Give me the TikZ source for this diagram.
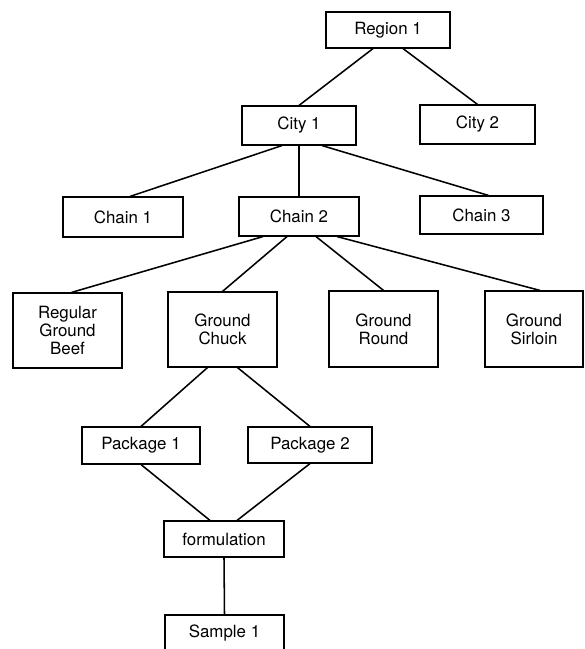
\documentclass[tikz,border=0pt]{standalone}
\usepackage{fontspec}
\setmainfont{TeX Gyre Heros}
\usepackage{tikz}
\usetikzlibrary{calc}
\tikzset{
  bx/.style={draw,line width=0.8pt,align=center,inner sep=0pt,font=\fontsize{12}{13}\selectfont},
  ln/.style={line width=1.1pt}
}
\begin{document}
\begin{tikzpicture}[x=0.025cm,y=-0.025cm]
\useasboundingbox (0,0) rectangle (584,649);
% boxes
\node[bx,minimum width=3.1cm,minimum height=0.9cm] (reg) at (388,30) {Region 1};
\node[bx,minimum width=2.85cm,minimum height=0.975cm] (cityA) at (299,125.5) {City 1};
\node[bx,minimum width=2.875cm,minimum height=0.975cm] (cityB) at (477.5,124.5) {City 2};
\node[bx,minimum width=3cm,minimum height=1cm] (chainA) at (123,217) {Chain 1};
\node[bx,minimum width=3cm,minimum height=0.975cm] (chainB) at (299,216.5) {Chain 2};
\node[bx,minimum width=3.075cm,minimum height=0.95cm] (chainC) at (481.5,215) {Chain 3};
\node[bx,minimum width=2.725cm,minimum height=1.875cm] (rgb) at (67.5,330.5) {Regular\\Ground\\Beef};
\node[bx,minimum width=2.725cm,minimum height=1.875cm] (chuck) at (222.5,329.5) {Ground\\Chuck};
\node[bx,minimum width=2.725cm,minimum height=1.9cm] (round) at (383.5,329) {Ground\\Round};
\node[bx,minimum width=2.45cm,minimum height=1.9cm] (sirl) at (534,329) {Ground\\Sirloin};
\node[bx,minimum width=2.95cm,minimum height=0.925cm] (pkgA) at (141,445.5) {Package 1};
\node[bx,minimum width=3.1cm,minimum height=0.9cm] (pkgB) at (310,445) {Package 2};
\node[bx,minimum width=3cm,minimum height=0.9cm] (form) at (224,539) {formulation};
\node[bx,minimum width=2.975cm,minimum height=0.9cm] (smp) at (224.5,633) {Sample 1};
% connectors
\draw[ln] ($(reg.south)+(-15,0)$) -- (cityA.north);
\draw[ln] ($(reg.south)+(15,0)$) -- (cityB.north);
\draw[ln] ($(cityA.south)+(-17,0)$) -- ($(chainA.north)+(7,0)$);
\draw[ln] (cityA.south) -- (chainB.north);
\draw[ln] ($(cityA.south)+(23,0)$) -- ($(chainC.north)+(7,0)$);
\draw[ln] ($(chainB.south)+(-36,0)$) -- ($(rgb.north)+(4,0)$);
\draw[ln] ($(chainB.south)+(-12,0)$) -- (chuck.north);
\draw[ln] ($(chainB.south)+(17,0)$) -- (round.north);
\draw[ln] ($(chainB.south)+(38,0)$) -- ($(sirl.north)+(6,0)$);
\draw[ln] ($(chuck.south)+(-15,0)$) -- (pkgA.north);
\draw[ln] ($(chuck.south)+(15,0)$) -- (pkgB.north);
\draw[ln] (pkgA.south) -- ($(form.north)+(-14,0)$);
\draw[ln] (pkgB.south) -- ($(form.north)+(13,0)$);
\draw[ln] (form.south) -- (smp.north);
\end{tikzpicture}
\end{document}
